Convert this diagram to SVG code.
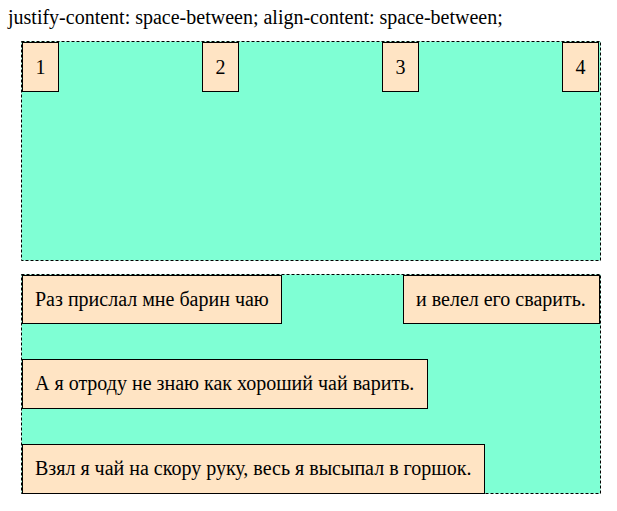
<svg xmlns="http://www.w3.org/2000/svg" width="617" height="511" viewBox="0 0 617 511">
<style>
  text { font-family: "Liberation Serif", "Times New Roman", serif; font-size: 20px; fill: #000; }
  .box { fill: #7FFFD4; stroke: #000; stroke-width: 1; stroke-dasharray: 3 2; }
  .item { fill: #FFE4C4; stroke: #000; stroke-width: 1; }
  .num { text-anchor: middle; }
</style>
<rect width="617" height="511" fill="#fff"/>
<text x="8" y="24">justify-content: space-between; align-content: space-between;</text>
<g id="container1">
  <rect class="box" x="21.5" y="41.5" width="579" height="219"/>
</g>
<g id="item1"><rect class="item" x="22.5" y="42.5" width="36" height="49"/><text class="num" x="40.5" y="74">1</text></g>
<g id="item2"><rect class="item" x="202.5" y="42.5" width="36" height="49"/><text class="num" x="220.5" y="74">2</text></g>
<g id="item3"><rect class="item" x="382.5" y="42.5" width="36" height="49"/><text class="num" x="400.5" y="74">3</text></g>
<g id="item4"><rect class="item" x="562.5" y="42.5" width="36" height="49"/><text class="num" x="580.5" y="74">4</text></g>
<g id="container2">
  <rect class="box" x="21.5" y="274.5" width="579" height="219"/>
</g>
<g id="line1"><rect class="item" x="22.5" y="275.5" width="259" height="48"/><text x="35" y="306">Раз прислал мне барин чаю</text></g>
<g id="line2"><rect class="item" x="403.5" y="275.5" width="196" height="48"/><text x="416" y="306">и велел его сварить.</text></g>
<g id="line3"><rect class="item" x="22.5" y="359.5" width="405" height="49"/><text x="35" y="390">А я отроду не знаю как хороший чай варить.</text></g>
<g id="line4"><rect class="item" x="22.5" y="444.5" width="462" height="49"/><text x="35" y="475">Взял я чай на скору руку, весь я высыпал в горшок.</text></g>
<g id="connectors"/>
</svg>
